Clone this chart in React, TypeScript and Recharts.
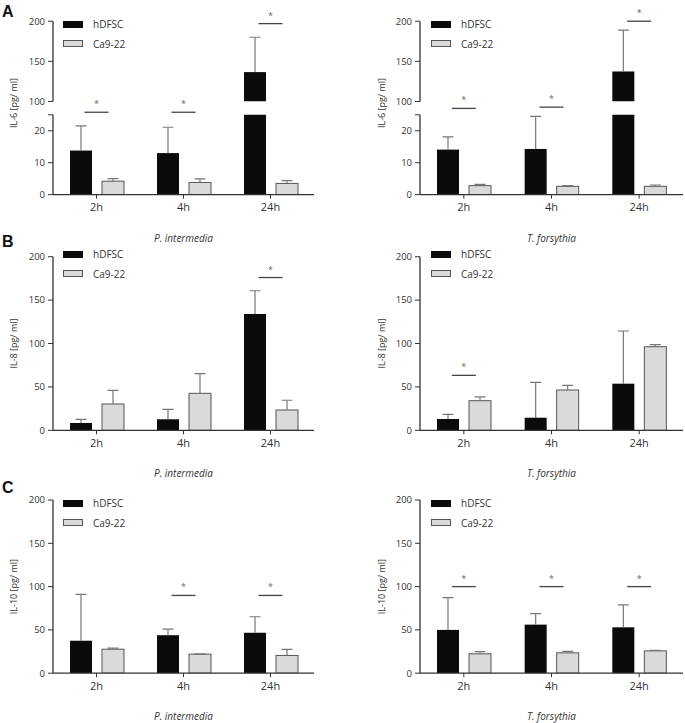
import React from 'react';
import { BarChart, Bar, XAxis, YAxis, ReferenceDot, Legend } from 'recharts';

const categories = ['2h', '4h', '24h'];

// IL-6, P. intermedia
const il6PiHdfsc = [13.8, 13.0, 136.6];
const il6PiHdfscErr = [7.7, 8.1, 43.4];
const il6PiCa = [4.2, 3.8, 3.5];
const il6PiCaErr = [0.8, 1.1, 0.9];
const il6PiSig = [{ cat: '2h', y: 25.8 }, { cat: '4h', y: 25.8 }, { cat: '24h', y: 197 }];

// IL-6, T. forsythia
const il6TfHdfsc = [14.1, 14.3, 137.4];
const il6TfHdfscErr = [4.0, 10.2, 51.4];
const il6TfCa = [2.8, 2.6, 2.6];
const il6TfCaErr = [0.4, 0.2, 0.4];
const il6TfSig = [{ cat: '2h', y: 27.0 }, { cat: '4h', y: 27.4 }, { cat: '24h', y: 200 }];

// IL-8, P. intermedia
const il8PiHdfsc = [8.4, 12.7, 134];
const il8PiHdfscErr = [4.3, 11.5, 26.8];
const il8PiCa = [30.3, 42.6, 23.4];
const il8PiCaErr = [15.8, 22.6, 11.2];
const il8PiSig = [{ cat: '24h', y: 176 }];

// IL-8, T. forsythia
const il8TfHdfsc = [13.0, 14.5, 53.7];
const il8TfHdfscErr = [5.4, 40.8, 60.7];
const il8TfCa = [34.1, 46.4, 96.3];
const il8TfCaErr = [4.3, 5.4, 2.3];
const il8TfSig = [{ cat: '2h', y: 63.3 }];

// IL-10, P. intermedia
const il10PiHdfsc = [37.5, 43.9, 46.7];
const il10PiHdfscErr = [53.5, 7.0, 18.5];
const il10PiCa = [27.7, 22.0, 20.5];
const il10PiCaErr = [1.2, 0.4, 6.9];
const il10PiSig = [{ cat: '4h', y: 89.8 }, { cat: '24h', y: 89.8 }];

// IL-10, T. forsythia
const il10TfHdfsc = [50.0, 56.1, 53.0];
const il10TfHdfscErr = [37.2, 12.7, 25.8];
const il10TfCa = [22.4, 23.5, 25.8];
const il10TfCaErr = [2.6, 1.8, 0.7];
const il10TfSig = [{ cat: '2h', y: 100 }, { cat: '4h', y: 100 }, { cat: '24h', y: 100 }];

const fullTicks = [0, 50, 100, 150, 200];
const upperTicks = [100, 150, 200];
const lowerTicks = [0, 10, 20, 25];
const BREAK_LOW = 25;
const BREAK_HIGH = 100;

const FONT = '"Open Sans", sans-serif';
const AXIS = '#333';
const SERIES = [
  { key: 'hdfsc', err: 'hErr', name: 'hDFSC', fill: '#0b0b0b', stroke: 'none' },
  { key: 'ca', err: 'cErr', name: 'Ca9-22', fill: '#dadada', stroke: '#555' },
];

type Sig = { cat: string; y: number };
type Row = { cat: string; hdfsc: number | null; ca: number | null; hErr: number | null; cErr: number | null };

const all = () => true;

function makeRows(
  h: number[], hE: number[], c: number[], cE: number[],
  showBar: (v: number) => boolean = all, showErr: (v: number) => boolean = all,
): Row[] {
  return categories.map((cat, i) => ({
    cat,
    hdfsc: showBar(h[i]) ? h[i] : null,
    ca: showBar(c[i]) ? c[i] : null,
    hErr: showBar(h[i]) && showErr(h[i]) ? hE[i] : null,
    cErr: showBar(c[i]) && showErr(c[i]) ? cE[i] : null,
  }));
}

// bar plus a one-sided (upper) error whisker, scaled from the bar's own geometry
function BarShape(props: any) {
  const { x, y, width, height, fill, stroke, payload, valKey, errKey, base } = props;
  const v = payload?.[valKey];
  const e = payload?.[errKey];
  if (v == null || !height || !width) return null;
  const h = Math.abs(height);
  const top = Math.min(y, y + height);
  const ppu = h / (v - base);
  const cx = x + width / 2;
  const errY = top - (e || 0) * ppu;
  return (
    <g>
      <rect x={x} y={top} width={width} height={h} fill={fill} stroke={stroke} strokeWidth={1} />
      {e != null && e > 0 && (
        <g stroke="#777" strokeWidth={1.2}>
          <line x1={cx} x2={cx} y1={top} y2={errY} />
          <line x1={cx - 5.5} x2={cx + 5.5} y1={errY} y2={errY} />
        </g>
      )}
    </g>
  );
}

function SigMark(props: any) {
  const { cx, cy } = props;
  return (
    <g>
      <line x1={cx - 12} x2={cx + 12} y1={cy} y2={cy} stroke="#444" strokeWidth={1.3} />
      <text x={cx} y={cy - 5} textAnchor="middle" fontSize={9} fill="#666" fontFamily={FONT}>*</text>
    </g>
  );
}

function LegendBox() {
  return (
    <div style={{ fontFamily: FONT, fontSize: 10, color: '#333' }}>
      {SERIES.map((s) => (
        <div key={s.key} style={{ display: 'flex', alignItems: 'center', height: 19.5 }}>
          <span
            style={{
              display: 'inline-block', width: 20, height: 7, marginRight: 10, boxSizing: 'border-box',
              background: s.fill, border: s.stroke === 'none' ? 'none' : `1px solid ${s.stroke}`,
            }}
          />
          {s.name}
        </div>
      ))}
    </div>
  );
}

const COLS = [
  { left: 0, width: 330, yWidth: 53, right: 16 },
  { left: 368, width: 317, yWidth: 52, right: 2 },
];

interface BlockProps {
  col: number;
  top: number;
  height: number;
  mTop: number;
  mBottom: number;
  rows: Row[];
  domain: [number, number];
  ticks: number[];
  hiddenTick?: number;
  xHeight?: number;
  xLabel?: string;
  yLabel?: string;
  legendTop?: number;
  sig: Sig[];
}

function Block(p: BlockProps) {
  const c = COLS[p.col];
  const base = p.domain[0] > 0 ? p.domain[0] : 0;
  const tickStyle = { fill: '#333', fontSize: 9.5, fontFamily: FONT };
  return (
    <div style={{ position: 'absolute', left: c.left, top: p.top }}>
      <BarChart
        width={c.width}
        height={p.height}
        data={p.rows}
        margin={{ top: p.mTop, right: c.right, bottom: p.mBottom, left: 0 }}
        barGap={10}
      >
        <XAxis
          dataKey="cat"
          hide={!p.xHeight}
          height={p.xHeight || 0}
          axisLine={{ stroke: AXIS, strokeWidth: 1.3 }}
          tickLine={{ stroke: AXIS }}
          tickSize={4}
          tickMargin={5}
          tick={{ fill: '#333', fontSize: 11, fontFamily: FONT }}
          label={p.xLabel ? {
            value: p.xLabel, position: 'insideBottom', offset: 3,
            style: { fontStyle: 'italic', fontSize: 10, fill: '#333', fontFamily: FONT },
          } : undefined}
        />
        <YAxis
          type="number"
          domain={p.domain}
          ticks={p.ticks}
          allowDataOverflow
          width={c.yWidth}
          axisLine={{ stroke: AXIS, strokeWidth: 1.3 }}
          tickLine={{ stroke: AXIS }}
          tickSize={5}
          tickMargin={3}
          tick={tickStyle}
          tickFormatter={(v: number) => (v === p.hiddenTick ? '' : String(v))}
          label={p.yLabel ? {
            value: p.yLabel, angle: -90, position: 'insideLeft', offset: 14,
            style: { textAnchor: 'middle', fontSize: 9, fill: '#333', fontFamily: FONT },
          } : undefined}
        />
        {p.legendTop !== undefined && (
          <Legend
            layout="vertical"
            align="center"
            verticalAlign="middle"
            content={() => <LegendBox />}
            wrapperStyle={{ left: 63, top: p.legendTop, width: 'auto', height: 'auto' }}
          />
        )}
        {SERIES.map((s) => (
          <Bar
            key={s.key}
            dataKey={s.key}
            name={s.name}
            fill={s.fill}
            stroke={s.stroke}
            barSize={22}
            isAnimationActive={false}
            shape={(props: any) => <BarShape {...props} valKey={s.key} errKey={s.err} base={base} />}
          />
        ))}
        {p.sig.map((s) => (
          <ReferenceDot key={s.cat} x={s.cat} y={s.y} ifOverflow="visible" shape={SigMark} />
        ))}
      </BarChart>
    </div>
  );
}

function BrokenPanel({ col, h, hE, c, cE, sig, xLabel }: {
  col: number; h: number[]; hE: number[]; c: number[]; cE: number[]; sig: Sig[]; xLabel: string;
}) {
  const upperRows = makeRows(h, hE, c, cE, (v) => v > BREAK_LOW);
  const lowerRows = makeRows(h, hE, c, cE, all, (v) => v <= BREAK_LOW);
  return (
    <>
      <Block
        col={col} top={90} height={155} mTop={24.8} mBottom={0}
        rows={lowerRows} domain={[0, BREAK_LOW]} ticks={lowerTicks} hiddenTick={BREAK_LOW}
        xHeight={50.4} xLabel={xLabel}
        sig={sig.filter((s) => s.y < BREAK_HIGH)}
      />
      <Block
        col={col} top={0} height={112} mTop={21.2} mBottom={10.5}
        rows={upperRows} domain={[BREAK_HIGH, 200]} ticks={upperTicks}
        legendTop={14.5}
        sig={sig.filter((s) => s.y >= BREAK_HIGH)}
      />
    </>
  );
}

export default function App() {
  return (
    <div style={{ position: 'absolute', left: 0, top: 0, width: 685, height: 723, background: '#fff', overflow: 'hidden' }}>
      <BrokenPanel col={0} h={il6PiHdfsc} hE={il6PiHdfscErr} c={il6PiCa} cE={il6PiCaErr} sig={il6PiSig} xLabel="P. intermedia" />
      <BrokenPanel col={1} h={il6TfHdfsc} hE={il6TfHdfscErr} c={il6TfCa} cE={il6TfCaErr} sig={il6TfSig} xLabel="T. forsythia" />

      <Block
        col={0} top={240} height={240} mTop={16.7} mBottom={0}
        rows={makeRows(il8PiHdfsc, il8PiHdfscErr, il8PiCa, il8PiCaErr)}
        domain={[0, 200]} ticks={fullTicks} xHeight={49.7} xLabel="P. intermedia"
        yLabel="IL-8 [pg/ ml]" legendTop={4.25} sig={il8PiSig}
      />
      <Block
        col={1} top={240} height={240} mTop={16.7} mBottom={0}
        rows={makeRows(il8TfHdfsc, il8TfHdfscErr, il8TfCa, il8TfCaErr)}
        domain={[0, 200]} ticks={fullTicks} xHeight={49.7} xLabel="T. forsythia"
        yLabel="IL-8 [pg/ ml]" legendTop={4.25} sig={il8TfSig}
      />
      <Block
        col={0} top={480} height={243} mTop={20} mBottom={0}
        rows={makeRows(il10PiHdfsc, il10PiHdfscErr, il10PiCa, il10PiCaErr)}
        domain={[0, 200]} ticks={fullTicks} xHeight={49.8} xLabel="P. intermedia"
        yLabel="IL-10 [pg/ ml]" legendTop={13.3} sig={il10PiSig}
      />
      <Block
        col={1} top={480} height={243} mTop={20} mBottom={0}
        rows={makeRows(il10TfHdfsc, il10TfHdfscErr, il10TfCa, il10TfCaErr)}
        domain={[0, 200]} ticks={fullTicks} xHeight={49.8} xLabel="T. forsythia"
        yLabel="IL-10 [pg/ ml]" legendTop={13.3} sig={il10TfSig}
      />

      <svg width={685} height={723} style={{ position: 'absolute', left: 0, top: 0, pointerEvents: 'none' }}>
        <g fontFamily='"Liberation Sans", Arial, sans-serif' fontWeight="bold" fontSize={16} fill="#111">
          <text x={2} y={17}>A</text>
          <text x={2} y={247}>B</text>
          <text x={2} y={493}>C</text>
        </g>
        <g fontFamily={FONT} fontSize={9} fill="#333" textAnchor="middle">
          <text transform="translate(14,103) rotate(-90)" dy="0.35em">IL-6 [pg/ ml]</text>
          <text transform="translate(382,103) rotate(-90)" dy="0.35em">IL-6 [pg/ ml]</text>
        </g>
      </svg>
    </div>
  );
}
